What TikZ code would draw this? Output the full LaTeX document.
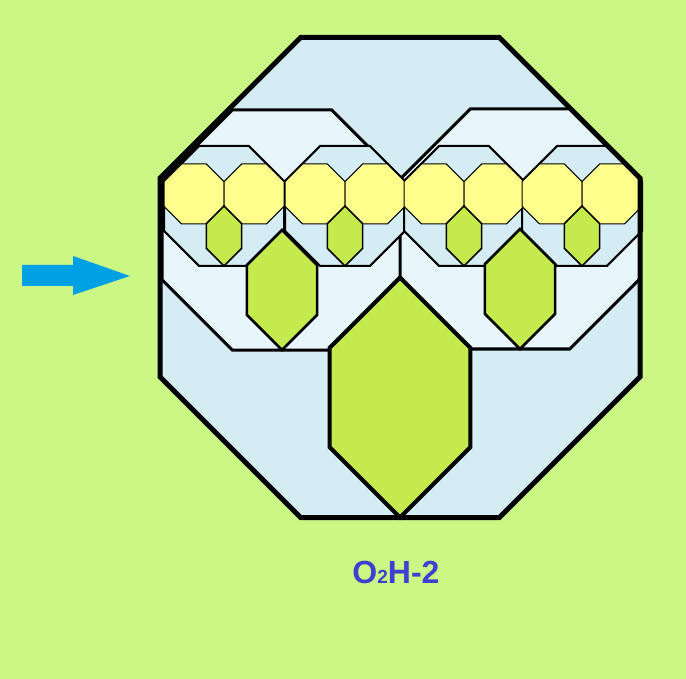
\documentclass[tikz,border=0pt]{standalone}
\usepackage{fontspec}
\setmainfont{Liberation Sans}
\definecolor{bg}{RGB}{203,247,133}
\definecolor{octblue}{RGB}{212,237,244}
\definecolor{octpale}{RGB}{230,246,250}
\definecolor{yel}{RGB}{255,255,140}
\definecolor{grn}{RGB}{196,234,78}
\definecolor{arrowblue}{RGB}{0,160,228}
\definecolor{txtblue}{RGB}{64,64,208}
% octagon: center x, center y, half-size R, style
\newcommand\OctShape[4]{%
  \path[#4] ({#1-#3+0.5858*#3},{#2-#3}) -- ({#1+#3-0.5858*#3},{#2-#3})
    -- ({#1+#3},{#2-#3+0.5858*#3}) -- ({#1+#3},{#2+#3-0.5858*#3})
    -- ({#1+#3-0.5858*#3},{#2+#3}) -- ({#1-#3+0.5858*#3},{#2+#3})
    -- ({#1-#3},{#2+#3-0.5858*#3}) -- ({#1-#3},{#2-#3+0.5858*#3}) -- cycle;}
% hexagon hanging from center of an octagon of half-size R
\newcommand\HexShape[4]{%
  \path[#4] (#1,#2) -- ({#1+0.2929*#3},{#2+0.2929*#3})
    -- ({#1+0.2929*#3},{#2+#3-0.2929*#3}) -- (#1,{#2+#3})
    -- ({#1-0.2929*#3},{#2+#3-0.2929*#3}) -- ({#1-0.2929*#3},{#2+0.2929*#3}) -- cycle;}
\tikzset{
  outerfill/.style={fill=octblue},
  outerline/.style={draw=black,line width=5pt},
  medoct/.style={fill=octpale,draw=black,line width=3pt},
  smalloct/.style={fill=octblue,draw=black,line width=2pt},
  yeloct/.style={fill=yel,draw=black,line width=1pt},
  bighex/.style={fill=grn,draw=black,line width=4pt},
  medhex/.style={fill=grn,draw=black,line width=2.5pt},
  smallhex/.style={fill=grn,draw=black,line width=1.5pt},
  arrowshape/.style={fill=arrowblue},
  label/.style={text=txtblue,font=\fontsize{32}{32}\selectfont\bfseries,inner sep=0pt}
}
\begin{document}
\begin{tikzpicture}[x=1pt,y=-1pt]
\fill[bg] (0,0) rectangle (686,679);
\useasboundingbox (0,0) rectangle (686,679);
% outer octagon fill
\OctShape{400}{277.5}{240}{outerfill}
% medium octagons
\OctShape{282}{230}{120}{medoct}
\OctShape{520}{229}{120}{medoct}
% big hexagon
\HexShape{400}{277.5}{240}{bighex}
% small octagons
\foreach \cx in {224,345,464,582}{\OctShape{\cx}{206}{60}{smalloct}}
% medium hexagons
\HexShape{282}{230}{120}{medhex}
\HexShape{520}{229}{120}{medhex}
% yellow octagons
\foreach \cx in {194,254,315,375,434,494,552,612}{\OctShape{\cx}{194}{30}{yeloct}}
% small hexagons
\foreach \cx in {224,345,464,582}{\HexShape{\cx}{206}{60}{smallhex}}
% outer stroke
\OctShape{400}{277.5}{240}{outerline}
% arrow
\fill[arrowshape] (22,265) -- (73,265) -- (73,256) -- (130,276) -- (73,295) -- (73,286) -- (22,286) -- cycle;
% label
\node[label,anchor=base] (lbl) at (396,583) {O{\fontsize{19}{19}\selectfont 2}H-2};
\end{tikzpicture}
\end{document}
